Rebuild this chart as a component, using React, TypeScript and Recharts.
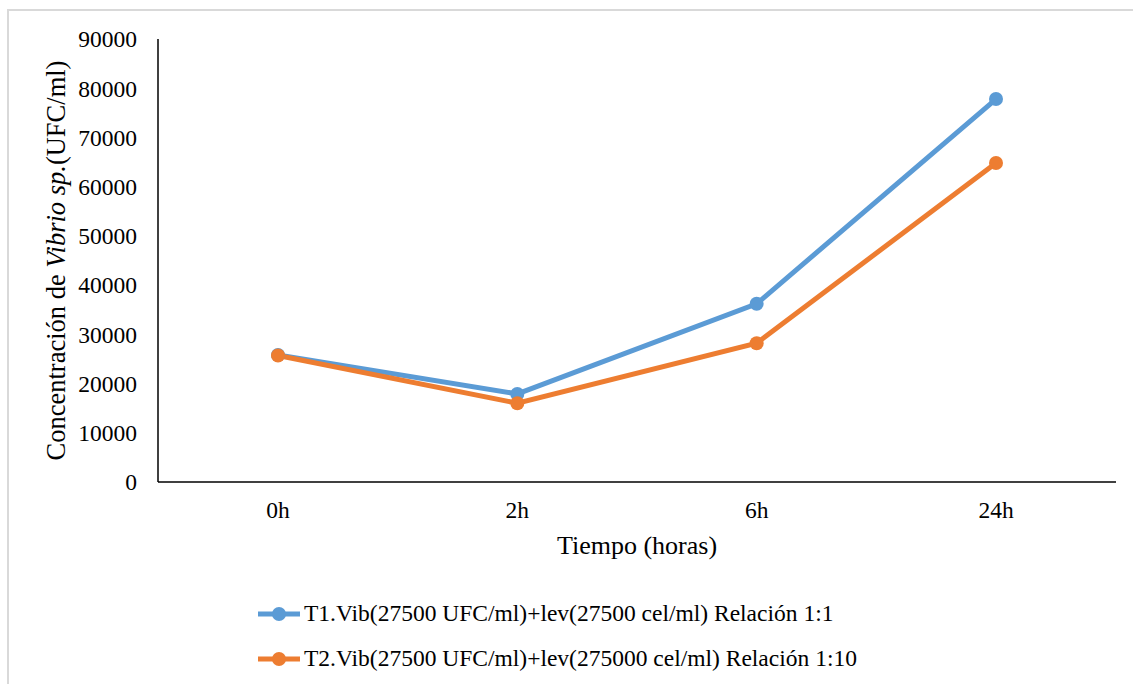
import { LineChart, Line, XAxis, YAxis, Legend, Label } from 'recharts';

// tiempos de muestreo
const tiempos = ['0h', '2h', '6h', '24h'];
// concentración de Vibrio sp. (UFC/ml)
const t1Valores = [25800, 17900, 36200, 77800];
const t2Valores = [25700, 16000, 28200, 64800];
const yTicks = [0, 10000, 20000, 30000, 40000, 50000, 60000, 70000, 80000, 90000];

const t1Nombre = 'T1.Vib(27500 UFC/ml)+lev(27500 cel/ml) Relación 1:1';
const t2Nombre = 'T2.Vib(27500 UFC/ml)+lev(275000 cel/ml) Relación 1:10';

const data = tiempos.map((t, i) => ({ tiempo: t, t1: t1Valores[i], t2: t2Valores[i] }));

const FONT = '"Liberation Serif", "Times New Roman", serif';
const AZUL = '#5B9BD5';
const NARANJA = '#ED7D31';

const YLabel = (props: any) => {
    const { viewBox } = props;
    const cx = viewBox.x - 13;
    const cy = viewBox.y + viewBox.height / 2;
    return (
        <text
            x={cx}
            y={cy}
            transform={`rotate(-90, ${cx}, ${cy})`}
            textAnchor="middle"
            fontFamily={FONT}
            fontSize={26.5}
            fill="#000"
        >
            Concentración de <tspan fontStyle="italic">Vibrio sp.</tspan>(UFC/ml)
        </text>
    );
};

const Leyenda = (props: any) => {
    const { payload } = props;
    return (
        <div style={{ fontFamily: FONT, fontSize: 23.5, color: '#000' }}>
            {payload.map((entry: any) => (
                <div key={entry.value} style={{ display: 'flex', alignItems: 'center', height: 45, whiteSpace: 'nowrap' }}>
                    <svg width={44} height={16} style={{ marginRight: 2 }}>
                        <line x1={0} y1={8} x2={42} y2={8} stroke={entry.color} strokeWidth={5} />
                        <circle cx={21} cy={8} r={7} fill={entry.color} />
                    </svg>
                    <span>{entry.value}</span>
                </div>
            ))}
        </div>
    );
};

export default function App() {
    return (
        <div style={{ position: 'fixed', left: 0, top: 0, width: 1133, height: 684, background: '#fff', overflow: 'hidden' }}>
            <div style={{ position: 'absolute', left: 7, top: 9, width: 1150, height: 700, border: '2px solid #d9d9d9' }} />
            <div style={{ position: 'absolute', left: 0, top: 0 }}>
                <LineChart
                    width={1133}
                    height={684}
                    data={data}
                    margin={{ top: 39, right: 17, left: 78, bottom: 122 }}
                >
                    <XAxis
                        dataKey="tiempo"
                        padding={{ left: 120, right: 120 }}
                        stroke="#000"
                        strokeWidth={1.5}
                        tickLine={false}
                        tick={{ fill: '#000', fontFamily: FONT, fontSize: 23.5 }}
                        tickMargin={13}
                        height={80}
                    >
                        <Label
                            value="Tiempo (horas)"
                            position="insideTop"
                            offset={54}
                            style={{ fill: '#000', fontFamily: FONT, fontSize: 26 }}
                        />
                    </XAxis>
                    <YAxis
                        domain={[0, 90000]}
                        ticks={yTicks}
                        interval={0}
                        width={80}
                        stroke="#000"
                        strokeWidth={1.5}
                        tickLine={false}
                        tick={{ fill: '#000', fontFamily: FONT, fontSize: 23.5 }}
                        tickMargin={15}
                    >
                        <Label content={<YLabel />} />
                    </YAxis>
                    <Line
                        dataKey="t1"
                        name={t1Nombre}
                        stroke={AZUL}
                        strokeWidth={5}
                        dot={{ r: 7, fill: AZUL, stroke: AZUL, strokeWidth: 0 }}
                        activeDot={false}
                        isAnimationActive={false}
                    />
                    <Line
                        dataKey="t2"
                        name={t2Nombre}
                        stroke={NARANJA}
                        strokeWidth={5}
                        dot={{ r: 7, fill: NARANJA, stroke: NARANJA, strokeWidth: 0 }}
                        activeDot={false}
                        isAnimationActive={false}
                    />
                    <Legend
                        layout="vertical"
                        align="center"
                        verticalAlign="middle"
                        content={<Leyenda />}
                        wrapperStyle={{ top: 591, left: 258, width: 720 }}
                    />
                </LineChart>
            </div>
        </div>
    );
}
